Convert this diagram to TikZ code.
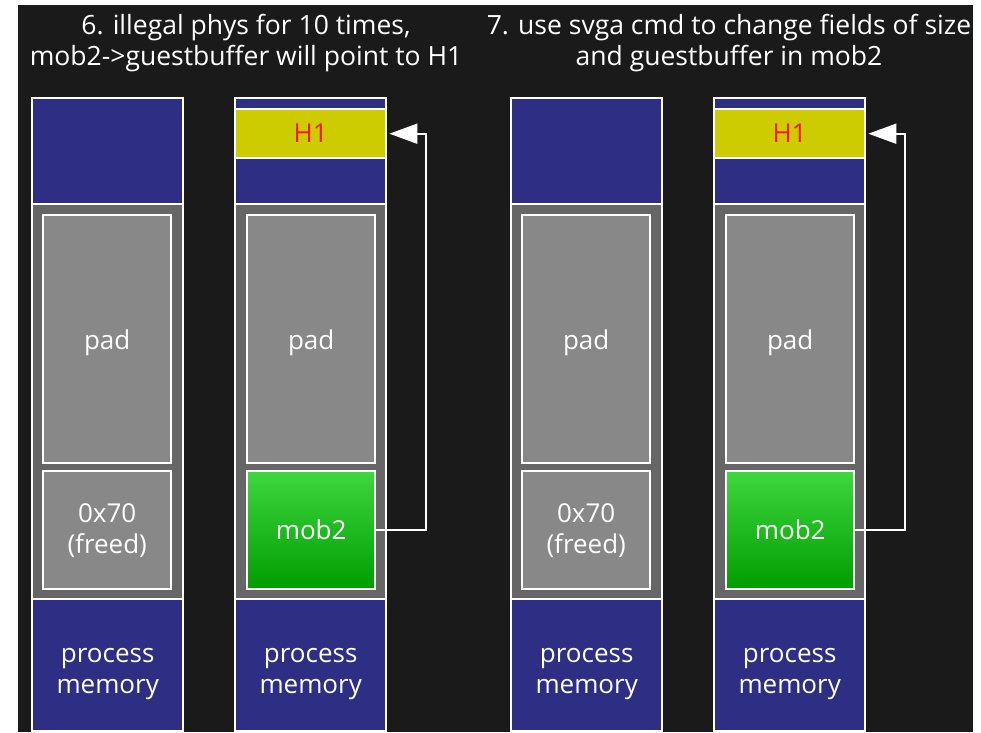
\documentclass[tikz,border=0pt]{standalone}
\usepackage{fontspec}
\setmainfont{Open Sans}
\usetikzlibrary{arrows.meta}
\definecolor{bg}{HTML}{1A1A1A}
\definecolor{navy}{RGB}{46,46,133}
\definecolor{ylw}{RGB}{204,204,0}
\definecolor{outg}{RGB}{102,102,102}
\definecolor{ing}{RGB}{136,136,136}
\definecolor{gtop}{RGB}{62,216,62}
\definecolor{gbot}{RGB}{0,156,0}
\definecolor{htext}{RGB}{255,20,20}
\begin{document}
\begin{tikzpicture}[x=1pt,y=-1pt,
  blk/.style={draw=white, line width=2.4pt, inner sep=0pt, anchor=north west,
    font=\fontsize{26}{31}\selectfont, text=white, align=center},
  lbl/.style={inner sep=0pt, font=\fontsize{26}{31}\selectfont, text=white, align=center},
  navybox/.style={blk, fill=navy, minimum width=151pt},
  ylwbox/.style={blk, fill=ylw, minimum width=151pt, text=htext},
  midbox/.style={blk, fill=outg, minimum width=151pt, minimum height=395pt},
  padbox/.style={blk, fill=ing, minimum width=128pt, minimum height=248pt},
  freebox/.style={blk, fill=ing, minimum width=128pt, minimum height=118pt},
  mobbox/.style={blk, top color=gtop, bottom color=gbot, minimum width=128pt, minimum height=118pt},
  title/.style={text=white, align=center, font=\fontsize{26.5}{31}\selectfont, inner sep=0pt},
  ptr/.style={draw=white, line width=2pt, -{Triangle[length=28pt,width=20pt,fill=white]}}
]
\useasboundingbox (0,0) rectangle (981,732);
\fill[white] (0,0) rectangle (981,732);
\fill[bg] (18,5) rectangle (973,732);

% titles
\node[title] (t1) at (246,43) {6. illegal phys for 10 times,\\mob2->guestbuffer will point to H1};
\node[title] (t2) at (729,43) {7. use svga cmd to change fields of size\\and guestbuffer in mob2};

% column 1
\node[navybox, minimum height=106pt] (c1top) at (31,97) {};
\node[midbox] (c1mid) at (31,203) {};
\node[padbox] (c1pad) at (42,214) {};
\node[freebox] (c1free) at (42,470) {0x70\\(freed)};
\node[navybox, minimum height=132pt] (c1pm) at (31,598) {};
\node[lbl] (l1pad) at ([yshift=-4pt]c1pad.center) {pad};
\node[lbl] (l1pm) at ([yshift=-9pt]c1pm.center) {process\\memory};

% column 2
\node[navybox, minimum height=11pt] (c2a) at (234,97) {};
\node[ylwbox, minimum height=49pt] (c2h1) at (234,108) {H1};
\node[navybox, minimum height=46pt] (c2b) at (234,157) {};
\node[midbox] (c2mid) at (234,203) {};
\node[padbox] (c2pad) at (246,214) {};
\node[mobbox] (c2mob) at (246,470) {mob2};
\node[navybox, minimum height=132pt] (c2pm) at (234,598) {};
\node[lbl] (l2pad) at ([yshift=-4pt]c2pad.center) {pad};
\node[lbl] (l2pm) at ([yshift=-9pt]c2pm.center) {process\\memory};

% column 3
\node[navybox, minimum height=106pt] (c3top) at (510,97) {};
\node[midbox] (c3mid) at (510,203) {};
\node[padbox] (c3pad) at (521,214) {};
\node[freebox] (c3free) at (521,470) {0x70\\(freed)};
\node[navybox, minimum height=132pt] (c3pm) at (510,598) {};
\node[lbl] (l3pad) at ([yshift=-4pt]c3pad.center) {pad};
\node[lbl] (l3pm) at ([yshift=-9pt]c3pm.center) {process\\memory};

% column 4
\node[navybox, minimum height=11pt] (c4a) at (713,97) {};
\node[ylwbox, minimum height=49pt] (c4h1) at (713,108) {H1};
\node[navybox, minimum height=46pt] (c4b) at (713,157) {};
\node[midbox] (c4mid) at (713,203) {};
\node[padbox] (c4pad) at (725,214) {};
\node[mobbox] (c4mob) at (725,470) {mob2};
\node[navybox, minimum height=132pt] (c4pm) at (713,598) {};
\node[lbl] (l4pad) at ([yshift=-4pt]c4pad.center) {pad};
\node[lbl] (l4pm) at ([yshift=-9pt]c4pm.center) {process\\memory};

% pointers
\draw[ptr] (c2mob.east) -- ++(50,0) |- ([xshift=2pt]c2h1.east);
\draw[ptr] (c4mob.east) -- ++(50,0) |- ([xshift=2pt]c4h1.east);
\end{tikzpicture}
\end{document}
